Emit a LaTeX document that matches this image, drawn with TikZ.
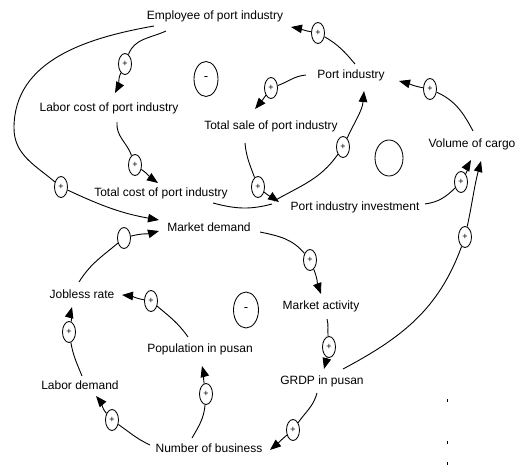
\documentclass[tikz,border=0pt]{standalone}
\usepackage{fontspec}
\setmainfont{Liberation Sans}
\usetikzlibrary{shapes.geometric,arrows.meta}
\begin{document}
\begin{tikzpicture}[x=1pt,y=1pt,
  lbl/.style={inner sep=0pt,font=\fontsize{12}{14}\selectfont},
  pol/.style={ellipse,draw,line width=0.85pt,fill=white,minimum width=13pt,
    minimum height=21pt,inner sep=0pt,font=\fontsize{9}{9}\selectfont},
  loopmark/.style={ellipse,draw,line width=0.85pt,inner sep=0pt,
    font=\fontsize{13}{13}\selectfont},
  link/.style={line width=0.9pt},
  cause/.style={link,-{Triangle[length=11pt,width=8.5pt]}},
  speck/.style={line width=0.6pt}
]
\useasboundingbox (0,0) rectangle (530,-468);

% variables
\node[lbl] (emp)  at (215,-16)  {Employee of port industry};
\node[lbl] (port) at (351,-75)  {Port industry};
\node[lbl] (lc)   at (109,-108) {Labor cost of port industry};
\node[lbl] (ts)   at (271,-126) {Total sale of port industry};
\node[lbl] (vol)  at (472,-144) {Volume of cargo};
\node[lbl] (tc)   at (161,-193) {Total cost of port industry};
\node[lbl] (inv)  at (355,-207) {Port industry investment};
\node[lbl] (md)   at (209,-227) {Market demand};
\node[lbl] (ma)   at (321,-306) {Market activity};
\node[lbl] (jr)   at (82,-294)  {Jobless rate};
\node[lbl] (pop)  at (200,-349) {Population in pusan};
\node[lbl] (ld)   at (80,-385)  {Labor demand};
\node[lbl] (grdp) at (322,-381) {GRDP in pusan};
\node[lbl] (nb)   at (209,-448) {Number of business};

% link polarities
\node[pol] (p1)  at (125,-64)  {+};
\node[pol] (p2)  at (61,-187)  {+};
\node[pol] (p3)  at (135,-165) {+};
\node[pol] (p4)  at (318,-33)  {+};
\node[pol] (p5)  at (271,-88)  {+};
\node[pol] (p6)  at (343,-147) {+};
\node[pol] (p7)  at (430,-89)  {+};
\node[pol] (p8)  at (461,-182) {+};
\node[pol] (p9)  at (465,-237) {+};
\node[pol] (p10) at (310,-260) {+};
\node[pol] (p11) at (329,-347) {+};
\node[pol] (p12) at (293,-430) {+};
\node[pol] (p13) at (112,-420) {+};
\node[pol] (p14) at (206,-394) {+};
\node[pol] (p15) at (69,-332)  {+};
\node[pol] (p16) at (151,-301) {+};
\node[pol] (p17) at (124,-238) {};
\node[pol] (p18) at (258,-187) {+};

% loop polarities
\node[loopmark,minimum width=24pt,minimum height=35pt] (loopA) at (206,-79)  {-};
\node[loopmark,minimum width=28pt,minimum height=36pt] (loopB) at (389,-158) {};
\node[loopmark,minimum width=25pt,minimum height=36pt] (loopC) at (246,-310) {-};

\coordinate (arcW) at (14,-128);

% causal links
\draw[cause] ([xshift=-49pt,yshift=-15pt]emp.center) to[out=205,in=70] (p1)
  to[out=245,in=62] ([xshift=6pt,yshift=15pt]lc.center);
\draw[cause] ([xshift=-61pt,yshift=-10pt]emp.center) to[out=190,in=90] (arcW)
  to[out=270,in=140] (p2) to[out=-25,in=170] ([xshift=-50pt,yshift=7pt]md.center);
\draw[cause] ([xshift=8pt,yshift=-14pt]lc.center) to[out=265,in=110] (p3)
  to[out=-35,in=145] ([xshift=-3pt,yshift=10pt]tc.center);
\draw[cause] ([xshift=4pt,yshift=11pt]port.center) to[out=130,in=-30] (p4)
  to[out=170,in=-10] ([xshift=76pt,yshift=-11pt]emp.center);
\draw[cause] ([xshift=-45pt]port.center) to[out=185,in=20] (p5)
  to[out=235,in=50] ([xshift=-16pt,yshift=17pt]ts.center);
\draw[cause] ([xshift=-81pt,yshift=6pt]inv.center) to[out=30,in=235] (p6)
  to[out=65,in=265] ([xshift=13pt,yshift=-16pt]port.center);
\draw[cause] ([xshift=1pt,yshift=13pt]vol.center) to[out=118,in=-25] (p7)
  to[out=170,in=-15] ([xshift=48pt,yshift=-6pt]port.center);
\draw[cause] ([xshift=70pt,yshift=3pt]inv.center) to[out=8,in=225] (p8)
  to[out=60,in=240] ([xshift=-1pt,yshift=-16pt]vol.center);
\draw[cause] ([xshift=21pt,yshift=12pt]grdp.center) to[out=28,in=250] (p9)
  to[out=78,in=255] ([xshift=9pt,yshift=-17pt]vol.center);
\draw[cause] ([xshift=51pt,yshift=-5pt]md.center) to[out=-12,in=130] (p10)
  to[out=-68,in=110] ([yshift=12pt]ma.center);
\draw[cause] ([xshift=6pt,yshift=-13pt]ma.center) to[out=-75,in=95] (p11)
  to[out=-100,in=75] ([xshift=2pt,yshift=12pt]grdp.center);
\draw[cause] ([xshift=-5pt,yshift=-12pt]grdp.center) to[out=-105,in=55] (p12)
  to[out=220,in=40] ([xshift=61pt,yshift=-2pt]nb.center);
\draw[cause] ([xshift=-59pt,yshift=3pt]nb.center) to[out=155,in=-35] (p13)
  to[out=130,in=-50] ([xshift=16pt,yshift=-11pt]ld.center);
\draw[cause] ([xshift=-17pt,yshift=10pt]nb.center) to[out=60,in=265] (p14)
  to[out=100,in=285] ([xshift=2pt,yshift=-17pt]pop.center);
\draw[cause] ([xshift=2pt,yshift=9pt]ld.center) to[out=112,in=-80] (p15)
  to[out=78,in=255] ([xshift=-10pt,yshift=-13pt]jr.center);
\draw[cause] ([xshift=-12pt,yshift=12pt]pop.center) to[out=125,in=-40] (p16)
  to[out=170,in=-5] ([xshift=40pt,yshift=-1pt]jr.center);
\draw[cause] ([xshift=-3pt,yshift=12pt]jr.center) to[out=58,in=220] (p17)
  to[out=15,in=195] ([xshift=-50pt,yshift=-4pt]md.center);
\draw[cause] ([xshift=-26pt,yshift=-17pt]ts.center) to[out=-85,in=110] (p18)
  to[out=-40,in=145] ([xshift=-76pt,yshift=5pt]inv.center);
\draw[link] ([xshift=52pt,yshift=-10pt]tc.center) to[out=-15,in=195]
  ([xshift=-83pt,yshift=3pt]inv.center);

% specks at the right margin
\draw[speck] (447,-399) -- (447,-401.5);
\draw[speck] (447,-441) -- (447,-443.5);
\draw[speck] (447,-462) -- (447,-464.5);
\end{tikzpicture}
\end{document}
